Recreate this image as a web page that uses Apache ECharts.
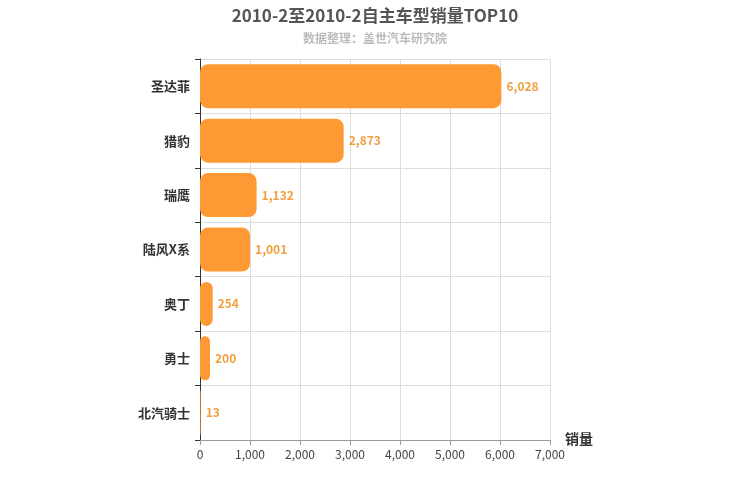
<!DOCTYPE html>
<html>
<head>
<meta charset="utf-8">
<script src="https://cdn.jsdelivr.net/npm/echarts@6/dist/echarts.min.js"></script>
<style>html,body{margin:0;padding:0;background:#fff}#chart{width:750px;height:500px}</style>
</head>
<body>
<div id="chart"></div>
<script>
let categories = ['圣达菲', '猎豹', '瑞鹰', '陆风X系', '奥丁', '勇士', '北汽骑士'];
let sales = [6028, 2873, 1132, 1001, 254, 200, 13];

let chart = echarts.init(document.getElementById('chart'));
chart.setOption({
  animation: false,
  textStyle: { fontFamily: 'Noto Sans CJK SC' },
  title: {
    text: '2010-2至2010-2自主车型销量TOP10',
    subtext: '数据整理：盖世汽车研究院',
    left: 'center',
    top: 2,
    itemGap: 8,
    textStyle: { fontSize: 17, fontWeight: 'bold', color: '#555' },
    subtextStyle: { fontSize: 12, fontWeight: 'bold', color: '#bbb' }
  },
  grid: { left: 200, right: 200, top: 59, bottom: 60 },
  xAxis: {
    type: 'value',
    min: 0,
    max: 7000,
    interval: 1000,
    name: '销量',
    nameGap: 15,
    nameTextStyle: { fontSize: 14, fontWeight: 'bold', color: '#333', verticalAlign: 'top', padding: [-8, 0, 0, 0] },
    axisLine: { show: true, lineStyle: { color: '#999' } },
    axisTick: { show: true, lineStyle: { color: '#999' } },
    axisLabel: { color: '#444', fontSize: 12 },
    splitLine: { lineStyle: { color: '#ddd' } }
  },
  yAxis: {
    type: 'category',
    inverse: true,
    data: categories,
    axisLine: { lineStyle: { color: '#333' } },
    axisTick: { show: true, lineStyle: { color: '#333' } },
    axisLabel: { color: '#333', fontSize: 13, fontWeight: 'bold', margin: 10 },
    splitLine: { show: true, lineStyle: { color: '#ddd' } }
  },
  series: [{
    type: 'bar',
    data: sales,
    barWidth: 44,
    itemStyle: { color: '#ff9933', borderRadius: 8 },
    label: {
      show: true,
      position: 'right',
      color: '#f0a040',
      fontSize: 12,
      fontWeight: 'bold',
      formatter: p => p.value.toLocaleString('en-US')
    }
  }]
});
</script>
</body>
</html>
